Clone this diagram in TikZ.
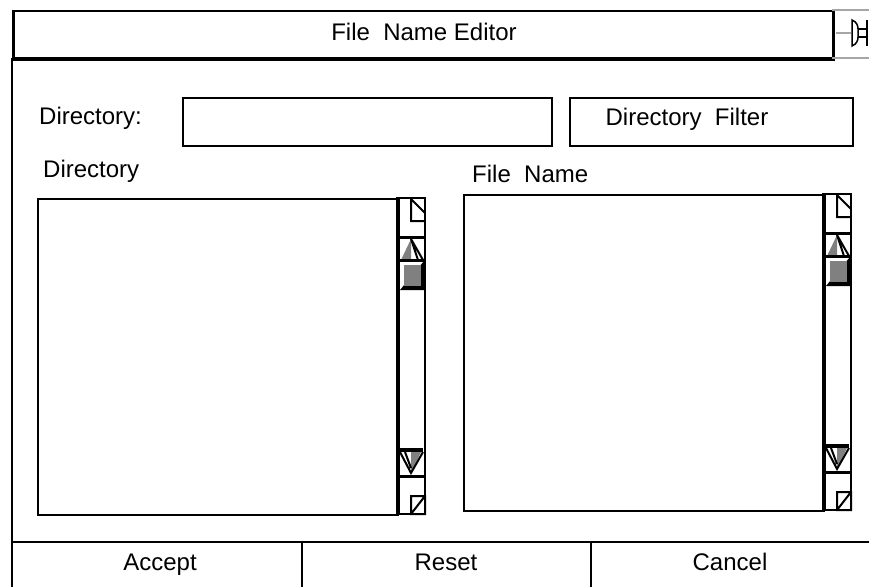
\documentclass[tikz,border=0pt]{standalone}
\usepackage{fontspec}
\setmainfont{Liberation Sans}
\begin{document}
\begin{tikzpicture}[x=1pt, y=-1pt, font=\fontsize{24}{28}\selectfont,
    frame/.style={line width=2.5pt},
    field/.style={draw, line width=2pt, inner sep=0pt, anchor=north west},
    label/.style={anchor=base west, inner sep=0pt},
    caption/.style={anchor=base, inner sep=0pt}]
  \useasboundingbox (0,0) rectangle (869,586);

  % Title bar and window frame
  \node[field, line width=2.5pt, minimum width=820pt, minimum height=48pt] (titlebar) at (12,10) {};
  \node[caption] (title) at (424,41) {File~ Name Editor};
  \draw[frame] (12,58) -- (12,590);
  \draw[frame] (12,58) -- (832,58);
  \draw[frame] (12,542) -- (875,542);

  % Pin in the corner
  \draw[gray!70, line width=2pt] (832,10) -- (875,10) (832,58) -- (875,58);
  \draw[gray!70, line width=2.5pt] (836,33) -- (851,33);
  \draw[line width=1.5pt] (852,20) .. controls (857,22) and (858,26) .. (858,29)
    -- (858,37) .. controls (858,40) and (857,44) .. (852,46) -- cycle;
  \draw[line width=1.5pt] (858,29) -- (867,29) (858,37) -- (867,37) (867,20) -- (867,46);

  % Directory field and filter button
  \node[label] (dirlabel) at (39,124) {Directory:};
  \node[field, minimum width=369pt, minimum height=48pt] (dirfield) at (182,97) {};
  \node[field, minimum width=283pt, minimum height=48pt] (filterbox) at (569,97) {};
  \node[caption] (filter) at (687,125) {Directory~ Filter};

  % Lists
  \node[label] (dirtitle) at (43,177) {Directory};
  \node[label] (filetitle) at (472,182) {File~ Name};
  \node[field, minimum width=360pt, minimum height=316pt] (dirlist) at (37,198) {};
  \node[field, minimum width=360pt, minimum height=316pt] (filelist) at (463,194) {};

  % Scroll bars
  \foreach \sx/\sy in {397/198, 823/194} {
    \begin{scope}[shift={(\sx,\sy)}]
      \draw[line width=2pt] (0,0) rectangle (28,316);
      \draw[line width=4pt] (1,0) -- (1,316);
      % top button
      \draw[line width=3pt] (0,39) -- (28,39);
      \draw[line width=2pt] (14,1) -- (14,23) -- (28,23) (14,1) -- (28,15);
      % up arrow
      \fill[gray] (14,41) -- (4,62) -- (14,62) -- cycle;
      \draw[line width=2pt] (14,41) -- (26,62) (14,41) -- (21,62);
      \draw[line width=3pt] (3,62) -- (27,62);
      % thumb
      \fill (27,63) -- (27,92) -- (3,92) -- cycle;
      \fill[gray] (7,67) rectangle (24,88);
      % down arrow
      \draw[line width=4pt] (2,252) -- (26,252);
      \fill[gray] (14,275) -- (24,254) -- (14,254) -- cycle;
      \draw[line width=2pt] (3,254) -- (14,275) -- (26,254) (8,254) -- (14,270);
      \draw[line width=3pt] (0,278) -- (28,278);
      % bottom button
      \draw[line width=2pt] (14,298) rectangle (28,316) (14,316) -- (28,298);
    \end{scope}
  }

  % Buttons
  \draw[frame] (302,542) -- (302,590) (591,542) -- (591,590);
  \node[caption] (accept) at (160,570) {Accept};
  \node[caption] (reset) at (446,570) {Reset};
  \node[caption] (cancel) at (730,570) {Cancel};
\end{tikzpicture}
\end{document}
